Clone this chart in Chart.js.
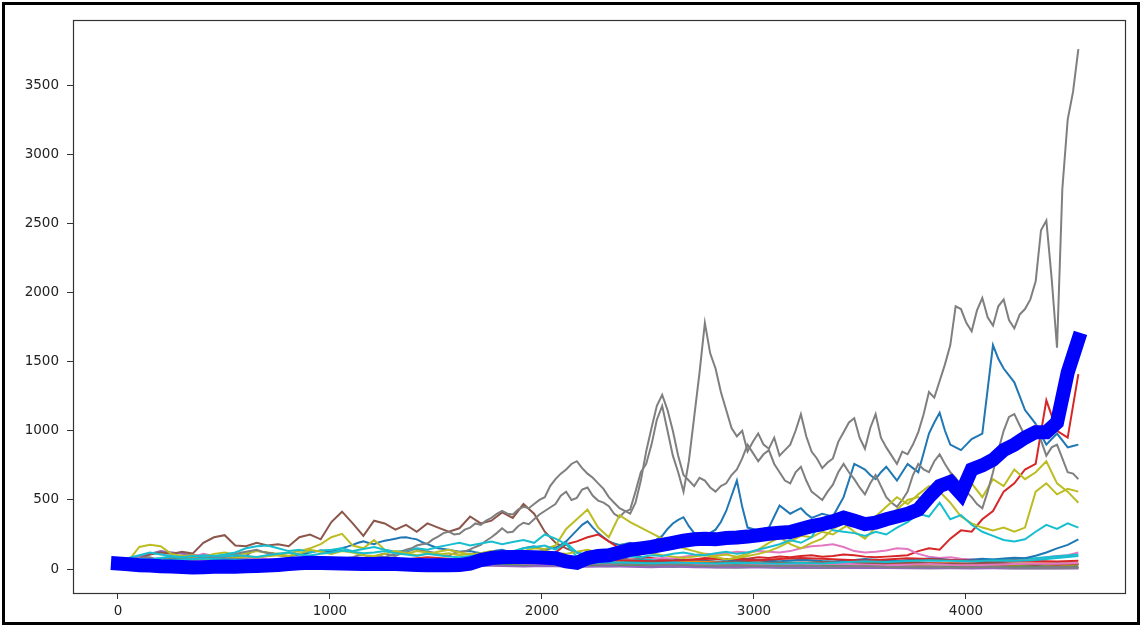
<!DOCTYPE html>
<html>
<head>
<meta charset="utf-8">
<script src="https://cdn.jsdelivr.net/npm/chart.js@4"></script>
<style>
  html, body { margin: 0; padding: 0; background: #ffffff; }
  #wrap { width: 1142px; height: 627px; }
</style>
</head>
<body>
<div id="wrap"><canvas id="chart" width="1142" height="627"></canvas></div>
<script>
// Simulated price paths over 4530 steps. Each path is sampled at evenly spaced steps.
const END_DAY = 4530;

const xTicks = [0, 1000, 2000, 3000, 4000];
const yTicks = [0, 500, 1000, 1500, 2000, 2500, 3000, 3500];

// --- the widest-ranging paths, sampled every ~25 steps ---
const pathGrayA = [
  50,62, 58,60, 72,84, 85,74, 70,82, 88,76, 78,70, 66,80, 84,96, 98,88,
  86,104, 112,100, 98,122, 135,124, 118,104, 108,96, 92,106, 112,96, 88,84, 74,82,
  82,72, 68,80, 86,98, 102,90, 88,104, 112,100, 94,112, 122,138, 145,132, 128,120,
  108,100, 96,114, 124,128, 142,160, 175,205, 230,260, 295,265, 270,310, 335,325, 360,395,
  420,445, 470,530, 560,500, 515,575, 590,530, 495,480, 455,400, 375,415, 430,560, 700,760,
  900,1080, 1180,1000, 820,700, 560,780, 1100,1420, 1780,1560, 1450,1280, 1150,1020, 960,1000, 850,920,
  980,900, 870,950, 820,860, 900,1000, 1120,960, 850,800, 730,770, 800,920, 990,1060, 1090,950,
  870,1020, 1120,950, 880,820, 760,850, 830,900, 990,1120, 1280,1240, 1360,1480, 1620,1900, 1880,1780,
  1720,1870, 1960,1820, 1760,1900, 1950,1800, 1740,1840, 1880,1950, 2080,2450, 2520,2100, 1600,2750, 3250,3450,
  3760];
const pathGrayB = [
  50,40, 45,54, 60,50, 52,62, 68,60, 58,66, 72,70, 64,74, 80,78, 70,84,
  92,96, 105,118, 125,132, 140,126, 118,112, 100,94, 85,80, 70,68, 62,70, 76,66,
  60,68, 72,62, 58,70, 78,84, 92,96, 85,100, 110,124, 140,150, 170,180, 185,215,
  235,260, 270,250, 255,285, 300,330, 320,350, 370,400, 420,400, 395,430, 450,440, 470,500,
  520,600, 650,690, 720,760, 780,730, 690,660, 620,580, 520,480, 440,420, 400,480, 640,850,
  1020,1180, 1260,1150, 1000,820, 680,640, 600,660, 640,590, 560,600, 620,680, 720,800, 900,840,
  780,830, 860,760, 700,640, 620,700, 740,640, 560,530, 500,560, 610,700, 760,700, 650,590,
  540,620, 680,600, 520,480, 450,500, 560,680, 760,720, 700,780, 830,760, 700,660, 600,560,
  520,470, 440,560, 700,860, 1000,1100, 1120,1040, 960,1000, 1040,930, 820,880, 900,800, 700,690,
  650];
const pathBlueA = [
  50,52, 55,50, 48,56, 62,66, 70,62, 58,62, 66,72, 75,70, 68,74, 80,76,
  72,80, 88,92, 95,88, 82,90, 98,104, 110,100, 92,98, 105,112, 120,128, 135,130,
  128,140, 150,162, 175,190, 200,188, 180,195, 205,212, 220,228, 230,222, 215,195, 180,165,
  150,145, 140,132, 125,128, 130,122, 115,120, 128,134, 140,130, 122,136, 150,158, 165,150,
  140,148, 155,175, 200,240, 280,320, 345,300, 260,230, 200,185, 175,182, 190,178, 170,182,
  195,215, 240,290, 330,355, 375,310, 260,250, 240,262, 285,340, 420,530, 640,450, 300,290,
  280,292, 300,380, 460,430, 400,420, 440,400, 370,385, 400,390, 380,450, 520,640, 760,740,
  720,680, 650,700, 740,690, 640,700, 760,730, 700,840, 980,1060, 1130,1000, 900,880, 860,900,
  940,960, 980,1300, 1620,1520, 1450,1400, 1350,1250, 1150,1100, 1050,970, 900,940, 980,930, 880,890,
  900];

// --- other wandering paths, sampled every ~50 steps ---
const pathRedA = [50,48,55,60,52,58,64,56,62,70,
  64,58,66,72,68,62,70,76,70,64,
  72,80,74,68,75,82,76,70,78,85,
  80,74,68,76,82,90,84,78,86,92,
  110,120,180,200,230,250,200,150,110,90,
  80,70,75,65,70,80,75,70,80,75,
  85,80,90,85,95,100,90,95,105,100,
  90,85,90,95,100,130,150,140,220,280,
  270,360,420,560,620,720,760,1220,1000,950,
  1410];
const pathBrownA = [50,56,75,105,120,110,125,112,190,230,
  245,170,165,190,170,180,165,230,250,215,
  340,415,330,240,350,330,285,320,270,330,
  300,270,295,380,330,350,410,370,470,400,
  270,190,150,120,100,90,95,80,70,75,
  68,60,66,58,52,60,55,50,58,52,
  46,54,50,44,48,42,46,40,44,50,
  46,40,36,42,38,44,40,36,42,38,
  34,40,36,32,38,34,30,36,32,38,
  34];
const pathPinkA = [50,60,55,70,80,75,90,85,110,95,
  80,70,78,85,72,65,70,60,66,58,
  62,55,60,52,58,50,55,48,52,45,
  50,46,42,48,44,50,46,42,48,44,
  40,46,50,45,52,58,55,62,70,66,
  72,80,76,90,100,110,105,115,125,120,
  130,125,120,130,150,165,170,180,160,130,
  120,125,135,150,145,110,90,80,85,75,
  70,65,60,55,60,58,70,85,95,100,
  120];
const pathOliveA = [50,62,160,175,165,110,95,100,90,110,
  120,105,115,130,120,110,115,130,150,180,
  230,255,170,150,210,140,120,110,130,120,
  105,115,100,110,95,105,120,110,130,150,
  145,170,290,360,430,300,230,390,340,300,
  260,220,180,150,130,110,95,105,90,110,
  140,190,230,180,150,190,220,290,330,270,
  220,300,360,430,500,520,470,560,680,590,
  620,520,650,600,720,650,700,780,620,560,
  480];
const pathCyanA = [50,80,100,120,105,95,85,90,100,95,
  105,120,150,165,170,150,130,140,120,135,
  140,150,130,145,160,140,125,135,150,140,
  160,175,190,170,185,200,180,195,210,190,
  250,220,180,90,80,70,75,65,60,70,
  65,55,60,50,56,48,52,46,50,44,
  48,42,46,50,44,48,52,46,50,56,
  50,54,60,56,62,58,64,60,66,62,
  68,64,70,66,72,76,80,86,92,98,
  105];
const pathBlueB = [50,46,52,58,50,44,40,46,52,48,
  42,38,44,50,56,50,46,40,36,42,
  48,44,40,46,52,58,54,48,44,50,
  56,62,58,52,48,54,60,66,60,54,
  50,56,62,58,52,48,44,50,56,62,
  58,54,60,66,62,56,52,58,64,70,
  66,60,56,62,68,64,58,54,60,66,
  72,68,62,58,64,70,76,72,66,62,
  68,74,70,76,82,78,96,120,150,175,
  215];
const pathOliveB = [50,55,62,70,66,60,72,80,75,68,
  74,82,90,85,92,100,95,110,140,125,
  110,130,120,100,95,110,130,115,100,110,
  125,140,120,105,115,130,110,95,100,120,
  135,115,110,125,140,120,100,95,110,130,
  115,100,90,80,90,100,85,70,80,95,
  110,130,160,200,240,230,270,250,300,340,
  310,380,450,520,470,540,600,560,480,380,
  330,300,280,300,270,300,560,620,540,580,
  560];
const pathCyanB = [50,60,75,70,80,90,85,95,88,80,
  92,100,95,88,100,110,120,105,98,110,
  120,135,125,115,120,130,115,105,95,110,
  100,90,85,95,100,110,120,130,150,160,
  170,140,190,120,100,90,85,80,90,85,
  100,95,110,120,105,100,115,125,110,120,
  140,160,180,210,190,230,360,280,270,260,
  240,270,250,300,340,400,380,480,360,390,
  320,270,240,210,200,215,270,320,290,330,
  300];

// --- paths that stay near the floor, sampled every ~100 steps ---
const pathOrangeA = [50,55,62,58,66,72,64,58,62,55,50,54,48,52,46,50,44,40,46,42,38,44,40,36,42,38,34,40,36,32,38,34,30,36,40,34,30,28,32,36,30,26,30,34,28,32];
const pathGreenA = [50,46,52,48,56,60,54,50,46,42,48,44,40,36,42,38,34,30,36,32,28,34,30,26,30,28,24,28,26,22,26,24,20,24,22,18,22,20,16,20,18,16,18,20,16,18];
const pathPurpleA = [50,90,130,110,95,80,70,64,58,62,56,52,48,52,46,42,46,40,36,40,34,30,34,28,26,30,24,22,26,20,18,22,16,14,18,12,14,16,12,10,14,12,10,12,14,12];
const pathOrangeB = [50,44,40,46,52,48,56,62,58,52,48,54,60,56,50,46,52,48,44,50,46,42,48,52,46,42,48,54,50,44,40,46,42,48,44,40,46,50,44,40,36,42,38,44,40,38];
const pathGreenB = [50,58,66,74,70,62,56,50,54,48,44,40,44,38,34,38,32,28,32,26,24,28,22,20,24,18,16,20,14,12,16,12,10,12,8,10,12,8,6,8,10,8,6,8,6,8];
const pathRedB = [50,54,48,58,64,70,62,56,60,54,50,56,52,48,54,60,56,50,46,52,58,54,60,66,62,56,60,70,76,70,64,72,80,74,68,62,70,78,72,66,60,56,62,58,54,60];
const pathPurpleB = [50,46,42,48,44,40,36,42,38,34,30,34,30,26,30,26,22,26,22,18,22,18,16,20,16,14,18,14,12,14,12,10,12,10,8,10,8,6,8,6,5,6,5,4,5,4];
const pathBrownB = [50,48,56,52,60,66,58,52,56,50,46,52,48,44,50,46,42,48,52,46,42,48,44,40,46,50,44,40,46,52,48,42,46,50,44,40,44,48,42,38,42,46,40,36,40,38];
const pathPinkB = [50,56,62,70,64,58,66,72,68,62,58,54,50,46,52,48,44,40,44,40,36,40,44,38,34,38,42,36,32,36,40,34,30,34,38,32,28,32,36,30,28,32,36,40,38,44];
const pathGrayC = [50,52,60,72,80,76,70,64,72,78,70,62,58,64,56,50,46,52,48,42,46,40,36,40,34,30,34,28,26,30,24,22,26,20,18,22,16,14,18,12,14,16,12,10,12,10];
const pathCyanC = [50,58,64,70,76,70,64,58,62,56,52,58,54,50,56,52,48,54,50,46,52,48,44,50,46,42,48,44,40,46,42,38,44,40,50,56,52,58,64,60,56,62,60,66,80,95];

// --- average over all paths, sampled every ~50 steps ---
const pathMean = [40,35,28,25,20,18,15,12,14,16,
  18,17,20,22,25,30,36,42,45,44,
  42,40,38,37,36,38,36,33,30,28,
  28,27,29,40,65,80,85,88,88,85,
  82,78,55,45,80,95,100,120,140,150,
  160,175,190,205,215,220,215,225,228,235,
  245,255,262,268,290,310,325,345,372,350,
  325,335,360,380,400,430,520,600,630,545,
  720,750,790,860,900,950,990,990,1060,1420,
  1660];

const TAB = {
  blue: '#1f77b4', orange: '#ff7f0e', green: '#2ca02c', red: '#d62728',
  purple: '#9467bd', brown: '#8c564b', pink: '#e377c2', gray: '#7f7f7f',
  olive: '#bcbd22', cyan: '#17becf'
};

// Drawing order follows the colour cycle; later paths sit on top.
const thinPaths = [
  [TAB.blue, pathBlueA], [TAB.orange, pathOrangeA], [TAB.green, pathGreenA],
  [TAB.red, pathRedA], [TAB.purple, pathPurpleA], [TAB.brown, pathBrownA],
  [TAB.pink, pathPinkA], [TAB.gray, pathGrayA], [TAB.olive, pathOliveA],
  [TAB.cyan, pathCyanA],
  [TAB.blue, pathBlueB], [TAB.orange, pathOrangeB], [TAB.green, pathGreenB],
  [TAB.red, pathRedB], [TAB.purple, pathPurpleB], [TAB.brown, pathBrownB],
  [TAB.pink, pathPinkB], [TAB.gray, pathGrayB], [TAB.olive, pathOliveB],
  [TAB.cyan, pathCyanB],
  [TAB.gray, pathGrayC], [TAB.cyan, pathCyanC]
];

function toPoints(values) {
  const n = values.length;
  return values.map((v, i) => ({ x: i * END_DAY / (n - 1), y: v }));
}

const datasets = thinPaths.map(([color, values], i) => ({
  data: toPoints(values),
  borderColor: color,
  borderWidth: 2,
  pointRadius: 0,
  tension: 0,
  order: 100 - i
}));
datasets.push({
  data: toPoints(pathMean),
  borderColor: '#0000ff',
  borderWidth: 14,
  borderJoinStyle: 'miter',
  borderCapStyle: 'square',
  pointRadius: 0,
  tension: 0,
  order: 0
});

const tickFont = { family: 'DejaVu Sans', size: 13.5 };
const tickColor = '#222222';

// Outer figure frame plus the four axes spines.
const framePlugin = {
  id: 'frame',
  afterDraw(chart) {
    const { ctx, chartArea: a } = chart;
    ctx.save();
    ctx.strokeStyle = '#333333';
    ctx.lineWidth = 1.2;
    ctx.strokeRect(Math.round(a.left) + 0.5, Math.round(a.top) + 0.5,
      Math.round(a.right - a.left), Math.round(a.bottom - a.top));
    ctx.strokeStyle = '#000000';
    ctx.lineWidth = 3;
    ctx.strokeRect(3.5, 3.5, 1135, 620);
    ctx.restore();
  }
};

new Chart(document.getElementById('chart'), {
  type: 'line',
  data: { datasets },
  options: {
    responsive: false,
    animation: false,
    devicePixelRatio: 1,
    layout: { padding: { top: 20, right: 17, left: 0, bottom: 0 } },
    plugins: { legend: { display: false }, tooltip: { enabled: false } },
    scales: {
      x: {
        type: 'linear',
        min: -212,
        max: 4750,
        afterBuildTicks: s => { s.ticks = xTicks.map(v => ({ value: v })); },
        afterFit: s => { s.height = 34; },
        ticks: { callback: v => String(v), font: tickFont, color: tickColor, padding: 4, maxRotation: 0, autoSkip: false },
        grid: { display: true, drawOnChartArea: false, drawTicks: true, tickLength: 6, color: '#333333' },
        border: { display: false }
      },
      y: {
        type: 'linear',
        min: -173,
        max: 3970,
        afterBuildTicks: s => { s.ticks = yTicks.map(v => ({ value: v })); },
        afterFit: s => { s.width = 73; },
        ticks: { callback: v => String(v), font: tickFont, color: tickColor, padding: 8, autoSkip: false },
        grid: { display: true, drawOnChartArea: false, drawTicks: true, tickLength: 6, color: '#333333' },
        border: { display: false }
      }
    }
  },
  plugins: [framePlugin]
});
</script>
</body>
</html>
